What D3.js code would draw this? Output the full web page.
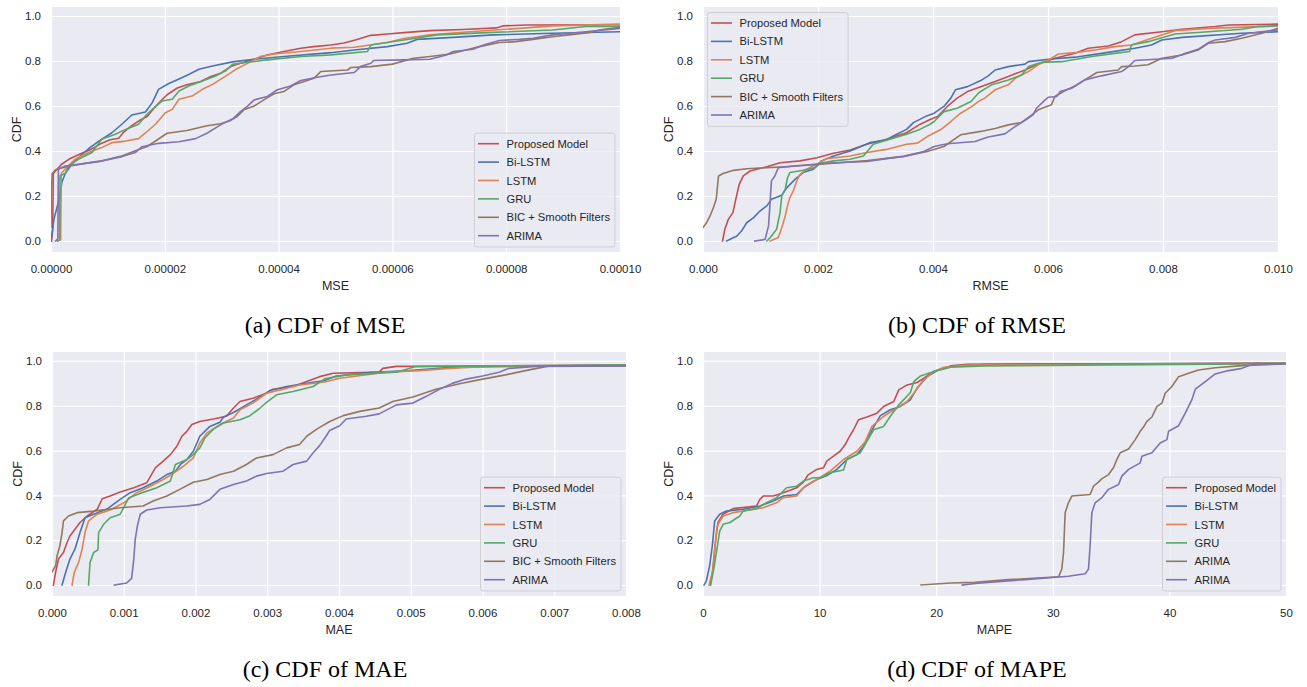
<!DOCTYPE html>
<html>
<head>
<meta charset="utf-8">
<script src="https://cdn.jsdelivr.net/npm/d3@7"></script>
<style>
  body { margin: 0; background: #ffffff; }
  svg text { font-family: "Liberation Sans", Arial, sans-serif; fill: #262626; }
</style>
</head>
<body>
<svg id="chart" width="1307" height="687"></svg>
<script>
// ---------------- DATA ----------------
const seriesNames = ["Proposed Model", "Bi-LSTM", "LSTM", "GRU", "BIC + Smooth Filters", "ARIMA"];
const mapeNames   = ["Proposed Model", "Bi-LSTM", "LSTM", "GRU", "ARIMA", "ARIMA"];
const seriesColors = ["#C44E52", "#4C72B0", "#DD8452", "#55A868", "#937860", "#8172B3"];

const cdfTicks = [0, 0.2, 0.4, 0.6, 0.8, 1.0];
const cdfTickLabels = ["0.0", "0.2", "0.4", "0.6", "0.8", "1.0"];

const mseTicks = [0, 0.00002, 0.00004, 0.00006, 0.00008, 0.0001];
const mseTickLabels = ["0.00000", "0.00002", "0.00004", "0.00006", "0.00008", "0.00010"];
const rmseTicks = [0, 0.002, 0.004, 0.006, 0.008, 0.010];
const rmseTickLabels = ["0.000", "0.002", "0.004", "0.006", "0.008", "0.010"];
const maeTicks = [0, 0.001, 0.002, 0.003, 0.004, 0.005, 0.006, 0.007, 0.008];
const maeTickLabels = ["0.000", "0.001", "0.002", "0.003", "0.004", "0.005", "0.006", "0.007", "0.008"];
const mapeTicks = [0, 10, 20, 30, 40, 50];
const mapeTickLabels = ["0", "10", "20", "30", "40", "50"];

// ---- (a) MSE : [value, CDF]
const mseProposed = [[0.01e-5,0],[0.03e-5,0.05],[0.04e-5,0.30],[0.18e-5,0.34],[0.34e-5,0.367],[0.52e-5,0.388],[0.69e-5,0.405],[0.87e-5,0.432],[1.04e-5,0.45],[1.19e-5,0.457],[1.28e-5,0.484],[1.40e-5,0.509],[1.57e-5,0.538],[1.69e-5,0.553],[1.81e-5,0.59],[1.92e-5,0.62],[2.04e-5,0.65],[2.22e-5,0.68],[2.39e-5,0.694],[2.63e-5,0.709],[2.80e-5,0.73],[2.98e-5,0.746],[3.16e-5,0.775],[3.33e-5,0.79],[3.57e-5,0.808],[3.80e-5,0.827],[4.09e-5,0.842],[4.39e-5,0.857],[4.62e-5,0.864],[4.92e-5,0.871],[5.15e-5,0.88],[5.38e-5,0.896],[5.62e-5,0.914],[5.91e-5,0.92],[6.26e-5,0.927],[6.66e-5,0.935],[7.24e-5,0.94],[7.83e-5,0.947],[7.94e-5,0.956],[8.35e-5,0.96],[10e-5,0.961]];
const mseBiLSTM = [[0,0],[0.05e-5,0.095],[0.11e-5,0.154],[0.16e-5,0.198],[0.19e-5,0.26],[0.25e-5,0.30],[0.36e-5,0.34],[0.48e-5,0.37],[0.66e-5,0.41],[0.84e-5,0.444],[1.07e-5,0.481],[1.25e-5,0.52],[1.42e-5,0.56],[1.66e-5,0.573],[1.78e-5,0.615],[1.89e-5,0.674],[2.07e-5,0.70],[2.25e-5,0.72],[2.42e-5,0.74],[2.60e-5,0.763],[2.84e-5,0.778],[3.19e-5,0.796],[3.57e-5,0.808],[4.09e-5,0.82],[4.92e-5,0.837],[5.33e-5,0.849],[5.91e-5,0.864],[6.26e-5,0.879],[6.43e-5,0.896],[7.07e-5,0.905],[7.77e-5,0.916],[8.81e-5,0.923],[10e-5,0.93]];
const mseLSTM = [[0.12e-5,0],[0.17e-5,0.005],[0.18e-5,0.30],[0.25e-5,0.32],[0.42e-5,0.363],[0.66e-5,0.393],[0.89e-5,0.415],[1.07e-5,0.437],[1.31e-5,0.444],[1.54e-5,0.455],[1.66e-5,0.48],[1.84e-5,0.52],[2.01e-5,0.57],[2.13e-5,0.585],[2.25e-5,0.63],[2.48e-5,0.644],[2.66e-5,0.674],[2.84e-5,0.696],[3.07e-5,0.733],[3.25e-5,0.763],[3.42e-5,0.785],[3.68e-5,0.82],[3.92e-5,0.831],[4.39e-5,0.842],[4.92e-5,0.857],[5.33e-5,0.861],[5.91e-5,0.882],[6.20e-5,0.90],[6.66e-5,0.916],[7.36e-5,0.93],[8.23e-5,0.945],[8.81e-5,0.956],[10e-5,0.964]];
const mseGRU = [[0.11e-5,0],[0.15e-5,0.005],[0.16e-5,0.29],[0.25e-5,0.30],[0.31e-5,0.333],[0.48e-5,0.363],[0.72e-5,0.393],[0.89e-5,0.452],[1.13e-5,0.474],[1.31e-5,0.496],[1.54e-5,0.519],[1.66e-5,0.556],[1.78e-5,0.585],[1.95e-5,0.622],[2.13e-5,0.63],[2.25e-5,0.667],[2.42e-5,0.689],[2.66e-5,0.711],[2.89e-5,0.733],[3.07e-5,0.756],[3.19e-5,0.785],[3.33e-5,0.79],[3.80e-5,0.805],[4.39e-5,0.82],[4.92e-5,0.827],[5.56e-5,0.842],[5.62e-5,0.871],[6.20e-5,0.893],[6.78e-5,0.916],[7.65e-5,0.926],[8.81e-5,0.938],[9.40e-5,0.953],[10e-5,0.953]];
const mseBIC = [[0,0.06],[0.005e-5,0.2],[0.02e-5,0.30],[0.08e-5,0.317],[0.28e-5,0.331],[0.63e-5,0.346],[0.87e-5,0.354],[1.22e-5,0.376],[1.45e-5,0.398],[1.69e-5,0.42],[1.87e-5,0.45],[2.04e-5,0.479],[2.39e-5,0.491],[2.74e-5,0.512],[2.98e-5,0.521],[3.16e-5,0.536],[3.27e-5,0.553],[3.39e-5,0.583],[3.57e-5,0.60],[3.74e-5,0.627],[3.92e-5,0.654],[4.09e-5,0.664],[4.27e-5,0.694],[4.45e-5,0.709],[4.62e-5,0.723],[4.74e-5,0.753],[5.21e-5,0.76],[5.27e-5,0.771],[5.62e-5,0.775],[6.0e-5,0.786],[6.37e-5,0.812],[6.66e-5,0.82],[7.01e-5,0.831],[7.19e-5,0.842],[7.53e-5,0.864],[7.88e-5,0.882],[8.17e-5,0.886],[8.47e-5,0.896],[8.81e-5,0.908],[9.10e-5,0.916],[9.45e-5,0.926],[9.69e-5,0.94],[10e-5,0.95]];
const mseARIMA = [[0.08e-5,0],[0.12e-5,0.01],[0.13e-5,0.32],[0.25e-5,0.333],[0.60e-5,0.345],[0.89e-5,0.356],[1.25e-5,0.375],[1.48e-5,0.393],[1.60e-5,0.419],[1.89e-5,0.434],[2.25e-5,0.441],[2.54e-5,0.455],[2.74e-5,0.479],[2.98e-5,0.516],[3.21e-5,0.546],[3.33e-5,0.575],[3.45e-5,0.598],[3.57e-5,0.627],[3.80e-5,0.642],[3.98e-5,0.672],[4.21e-5,0.689],[4.39e-5,0.713],[4.68e-5,0.728],[4.92e-5,0.738],[5.33e-5,0.749],[5.44e-5,0.775],[5.62e-5,0.79],[5.67e-5,0.802],[6.20e-5,0.805],[6.66e-5,0.808],[6.95e-5,0.827],[7.07e-5,0.842],[7.42e-5,0.852],[7.60e-5,0.871],[7.88e-5,0.891],[8.23e-5,0.896],[8.47e-5,0.901],[8.81e-5,0.916],[9.40e-5,0.93],[10e-5,0.945]];

// ---- (b) RMSE
const rmseProposed = [[0.34e-3,0],[0.38e-3,0.052],[0.44e-3,0.096],[0.52e-3,0.126],[0.57e-3,0.185],[0.63e-3,0.252],[0.70e-3,0.289],[0.82e-3,0.311],[1.11e-3,0.33],[1.34e-3,0.348],[1.69e-3,0.356],[1.98e-3,0.37],[2.27e-3,0.39],[2.56e-3,0.404],[2.85e-3,0.43],[3.19e-3,0.452],[3.54e-3,0.481],[3.77e-3,0.518],[3.95e-3,0.54],[4.08e-3,0.553],[4.25e-3,0.598],[4.42e-3,0.635],[4.60e-3,0.664],[4.83e-3,0.686],[5.08e-3,0.709],[5.31e-3,0.731],[5.60e-3,0.76],[5.83e-3,0.787],[6.12e-3,0.812],[6.47e-3,0.834],[6.70e-3,0.857],[7.05e-3,0.867],[7.28e-3,0.886],[7.51e-3,0.916],[7.98e-3,0.93],[8.33e-3,0.941],[8.91e-3,0.953],[9.14e-3,0.96],[10e-3,0.964]];
const rmseBiLSTM = [[0.41e-3,0],[0.59e-3,0.022],[0.67e-3,0.044],[0.76e-3,0.081],[0.88e-3,0.104],[0.99e-3,0.133],[1.11e-3,0.156],[1.19e-3,0.185],[1.37e-3,0.203],[1.46e-3,0.237],[1.60e-3,0.274],[1.74e-3,0.304],[1.92e-3,0.319],[2.06e-3,0.356],[2.27e-3,0.378],[2.56e-3,0.40],[2.90e-3,0.437],[3.19e-3,0.449],[3.31e-3,0.467],[3.54e-3,0.496],[3.66e-3,0.526],[3.89e-3,0.556],[4.02e-3,0.568],[4.19e-3,0.598],[4.31e-3,0.635],[4.39e-3,0.672],[4.60e-3,0.686],[4.83e-3,0.713],[4.96e-3,0.734],[5.08e-3,0.76],[5.31e-3,0.775],[5.60e-3,0.786],[5.66e-3,0.797],[6.01e-3,0.808],[6.47e-3,0.817],[6.93e-3,0.834],[7.51e-3,0.857],[7.80e-3,0.871],[7.98e-3,0.893],[8.33e-3,0.905],[9.37e-3,0.923],[10e-3,0.93]];
const rmseLSTM = [[1.17e-3,0],[1.31e-3,0.015],[1.37e-3,0.059],[1.43e-3,0.111],[1.47e-3,0.156],[1.51e-3,0.193],[1.57e-3,0.222],[1.63e-3,0.267],[1.69e-3,0.296],[1.80e-3,0.319],[1.98e-3,0.341],[2.15e-3,0.366],[2.56e-3,0.378],[2.85e-3,0.393],[3.19e-3,0.407],[3.54e-3,0.43],[3.73e-3,0.435],[3.90e-3,0.464],[4.13e-3,0.494],[4.31e-3,0.531],[4.48e-3,0.568],[4.66e-3,0.595],[4.80e-3,0.622],[4.90e-3,0.635],[5.08e-3,0.672],[5.31e-3,0.694],[5.43e-3,0.723],[5.66e-3,0.753],[5.83e-3,0.783],[6.06e-3,0.812],[6.18e-3,0.831],[6.47e-3,0.837],[6.82e-3,0.849],[7.16e-3,0.864],[7.45e-3,0.871],[7.74e-3,0.896],[7.98e-3,0.916],[8.21e-3,0.935],[8.79e-3,0.945],[10e-3,0.956]];
const rmseGRU = [[1.11e-3,0],[1.17e-3,0.015],[1.28e-3,0.052],[1.34e-3,0.126],[1.37e-3,0.20],[1.43e-3,0.23],[1.47e-3,0.281],[1.51e-3,0.304],[1.74e-3,0.314],[1.95e-3,0.326],[2.04e-3,0.345],[2.27e-3,0.356],[2.56e-3,0.363],[2.79e-3,0.378],[2.96e-3,0.43],[3.25e-3,0.452],[3.54e-3,0.474],[3.77e-3,0.496],[3.95e-3,0.519],[4.02e-3,0.531],[4.19e-3,0.575],[4.42e-3,0.59],[4.66e-3,0.62],[4.80e-3,0.66],[5.02e-3,0.694],[5.31e-3,0.716],[5.54e-3,0.738],[5.66e-3,0.775],[5.89e-3,0.794],[6.24e-3,0.797],[6.76e-3,0.82],[7.16e-3,0.834],[7.42e-3,0.842],[7.45e-3,0.871],[7.74e-3,0.886],[8.21e-3,0.92],[8.79e-3,0.93],[9.37e-3,0.941],[9.66e-3,0.953],[10e-3,0.956]];
const rmseBIC = [[0,0.06],[0.06e-3,0.08],[0.12e-3,0.11],[0.18e-3,0.148],[0.23e-3,0.185],[0.27e-3,0.289],[0.35e-3,0.30],[0.53e-3,0.314],[0.76e-3,0.321],[1.11e-3,0.326],[1.46e-3,0.33],[1.98e-3,0.34],[2.86e-3,0.357],[3.49e-3,0.376],[3.90e-3,0.398],[4.19e-3,0.42],[4.48e-3,0.472],[4.83e-3,0.487],[5.08e-3,0.50],[5.31e-3,0.516],[5.54e-3,0.527],[5.72e-3,0.56],[5.83e-3,0.583],[6.06e-3,0.605],[6.12e-3,0.642],[6.30e-3,0.669],[6.47e-3,0.689],[6.64e-3,0.716],[6.85e-3,0.749],[7.22e-3,0.76],[7.28e-3,0.775],[7.51e-3,0.778],[7.74e-3,0.783],[7.98e-3,0.812],[8.33e-3,0.827],[8.61e-3,0.849],[8.79e-3,0.879],[9.08e-3,0.886],[9.37e-3,0.901],[9.72e-3,0.923],[10e-3,0.945]];
const rmseARIMA = [[0.90e-3,0],[1.08e-3,0.007],[1.14e-3,0.067],[1.17e-3,0.185],[1.19e-3,0.267],[1.25e-3,0.289],[1.31e-3,0.326],[1.57e-3,0.333],[2.27e-3,0.348],[2.85e-3,0.353],[3.19e-3,0.366],[3.49e-3,0.376],[3.84e-3,0.398],[4.02e-3,0.42],[4.25e-3,0.432],[4.73e-3,0.442],[4.96e-3,0.462],[5.25e-3,0.476],[5.43e-3,0.509],[5.60e-3,0.536],[5.74e-3,0.561],[5.80e-3,0.59],[5.95e-3,0.627],[6.01e-3,0.639],[6.15e-3,0.642],[6.21e-3,0.664],[6.41e-3,0.679],[6.64e-3,0.716],[6.93e-3,0.734],[7.28e-3,0.753],[7.40e-3,0.775],[7.51e-3,0.802],[8.16e-3,0.812],[8.39e-3,0.834],[8.61e-3,0.852],[8.79e-3,0.882],[8.91e-3,0.893],[9.26e-3,0.905],[9.49e-3,0.923],[10e-3,0.938]];

// ---- (c) MAE
const maeProposed = [[0.02e-3,0],[0.05e-3,0.056],[0.09e-3,0.116],[0.16e-3,0.145],[0.21e-3,0.19],[0.25e-3,0.219],[0.32e-3,0.249],[0.39e-3,0.279],[0.49e-3,0.308],[0.63e-3,0.338],[0.70e-3,0.385],[0.81e-3,0.397],[0.95e-3,0.415],[1.14e-3,0.434],[1.32e-3,0.456],[1.44e-3,0.523],[1.55e-3,0.553],[1.65e-3,0.582],[1.74e-3,0.619],[1.81e-3,0.664],[1.88e-3,0.686],[1.95e-3,0.716],[2.06e-3,0.73],[2.25e-3,0.741],[2.43e-3,0.753],[2.53e-3,0.79],[2.62e-3,0.819],[2.80e-3,0.834],[2.99e-3,0.856],[3.08e-3,0.874],[3.36e-3,0.886],[3.55e-3,0.908],[3.73e-3,0.93],[3.92e-3,0.945],[4.56e-3,0.95],[4.61e-3,0.967],[4.80e-3,0.976],[5.12e-3,0.976],[8e-3,0.982]];
const maeBiLSTM = [[0.14e-3,0],[0.19e-3,0.056],[0.25e-3,0.116],[0.32e-3,0.16],[0.39e-3,0.234],[0.46e-3,0.30],[0.58e-3,0.316],[0.76e-3,0.338],[0.95e-3,0.382],[1.09e-3,0.412],[1.27e-3,0.434],[1.46e-3,0.464],[1.60e-3,0.493],[1.72e-3,0.508],[1.79e-3,0.538],[1.88e-3,0.56],[1.97e-3,0.597],[2.06e-3,0.664],[2.20e-3,0.708],[2.34e-3,0.726],[2.39e-3,0.75],[2.53e-3,0.77],[2.71e-3,0.804],[2.90e-3,0.839],[3.04e-3,0.868],[3.27e-3,0.886],[3.55e-3,0.90],[3.80e-3,0.913],[3.96e-3,0.933],[4.43e-3,0.948],[4.98e-3,0.957],[5.58e-3,0.972],[8e-3,0.982]];
const maeLSTM = [[0.28e-3,0],[0.31e-3,0.056],[0.37e-3,0.10],[0.42e-3,0.16],[0.46e-3,0.234],[0.51e-3,0.286],[0.63e-3,0.316],[0.81e-3,0.335],[1.00e-3,0.367],[1.18e-3,0.412],[1.37e-3,0.441],[1.55e-3,0.471],[1.69e-3,0.498],[1.83e-3,0.53],[1.97e-3,0.567],[2.06e-3,0.634],[2.16e-3,0.679],[2.34e-3,0.716],[2.53e-3,0.745],[2.62e-3,0.782],[2.80e-3,0.812],[2.99e-3,0.856],[3.18e-3,0.871],[3.45e-3,0.893],[3.80e-3,0.906],[4.01e-3,0.923],[4.66e-3,0.95],[5.12e-3,0.957],[5.54e-3,0.967],[6.05e-3,0.975],[8e-3,0.982]];
const maeGRU = [[0.51e-3,0],[0.53e-3,0.10],[0.58e-3,0.145],[0.64e-3,0.157],[0.65e-3,0.234],[0.72e-3,0.271],[0.81e-3,0.30],[0.95e-3,0.316],[1.00e-3,0.345],[1.07e-3,0.39],[1.23e-3,0.409],[1.46e-3,0.434],[1.65e-3,0.464],[1.72e-3,0.538],[1.88e-3,0.56],[1.97e-3,0.582],[2.06e-3,0.612],[2.13e-3,0.656],[2.25e-3,0.696],[2.39e-3,0.723],[2.62e-3,0.738],[2.76e-3,0.756],[2.90e-3,0.79],[2.99e-3,0.815],[3.13e-3,0.849],[3.36e-3,0.864],[3.64e-3,0.886],[3.80e-3,0.92],[4.10e-3,0.938],[4.80e-3,0.95],[5.07e-3,0.975],[8e-3,0.982]];
const maeBIC = [[0,0.059],[0.05e-3,0.086],[0.07e-3,0.13],[0.11e-3,0.175],[0.14e-3,0.234],[0.16e-3,0.286],[0.23e-3,0.308],[0.35e-3,0.323],[0.58e-3,0.33],[0.95e-3,0.345],[1.27e-3,0.353],[1.41e-3,0.375],[1.60e-3,0.397],[1.78e-3,0.427],[1.97e-3,0.459],[2.16e-3,0.471],[2.34e-3,0.493],[2.53e-3,0.508],[2.71e-3,0.538],[2.85e-3,0.567],[3.08e-3,0.582],[3.27e-3,0.612],[3.45e-3,0.627],[3.55e-3,0.664],[3.69e-3,0.696],[3.87e-3,0.73],[4.06e-3,0.756],[4.29e-3,0.775],[4.56e-3,0.79],[4.75e-3,0.819],[5.03e-3,0.839],[5.35e-3,0.874],[5.68e-3,0.898],[6.0e-3,0.919],[6.32e-3,0.938],[6.60e-3,0.957],[6.93e-3,0.978],[8e-3,0.978]];
const maeARIMA = [[0.87e-3,0],[1.04e-3,0.009],[1.11e-3,0.03],[1.14e-3,0.116],[1.16e-3,0.204],[1.19e-3,0.264],[1.23e-3,0.316],[1.32e-3,0.335],[1.51e-3,0.345],[1.88e-3,0.353],[2.06e-3,0.36],[2.20e-3,0.382],[2.34e-3,0.427],[2.53e-3,0.449],[2.71e-3,0.464],[2.85e-3,0.486],[2.99e-3,0.498],[3.22e-3,0.508],[3.36e-3,0.538],[3.55e-3,0.553],[3.64e-3,0.59],[3.73e-3,0.622],[3.82e-3,0.664],[3.87e-3,0.69],[4.01e-3,0.711],[4.10e-3,0.741],[4.38e-3,0.753],[4.56e-3,0.764],[4.80e-3,0.804],[5.03e-3,0.812],[5.21e-3,0.841],[5.40e-3,0.874],[5.58e-3,0.90],[5.77e-3,0.919],[6.0e-3,0.933],[6.23e-3,0.95],[6.37e-3,0.967],[6.75e-3,0.975],[8e-3,0.978]];

// ---- (d) MAPE
const mapeProposed = [[0.6,0],[0.86,0.071],[1.09,0.204],[1.29,0.279],[1.72,0.316],[2.58,0.341],[4.59,0.353],[4.88,0.382],[5.16,0.397],[6.03,0.397],[6.89,0.412],[8.03,0.434],[8.61,0.459],[9.04,0.493],[9.76,0.516],[10.33,0.523],[10.62,0.553],[11.19,0.575],[11.76,0.597],[12.2,0.627],[12.48,0.656],[12.91,0.693],[13.34,0.738],[14.06,0.75],[14.92,0.767],[15.49,0.797],[16.36,0.819],[16.79,0.871],[17.5,0.893],[18.36,0.904],[18.94,0.923],[19.8,0.953],[20.66,0.967],[21.23,0.978],[22.67,0.985],[50,0.99]];
const mapeBiLSTM = [[0.09,0],[0.29,0.019],[0.57,0.086],[0.80,0.175],[1.0,0.286],[1.43,0.316],[2.0,0.33],[3.44,0.338],[4.88,0.353],[6.03,0.375],[6.89,0.397],[8.03,0.404],[8.61,0.434],[9.18,0.453],[9.76,0.471],[10.62,0.489],[11.48,0.516],[12.34,0.56],[13.2,0.582],[13.77,0.619],[14.35,0.679],[15.21,0.756],[16.07,0.782],[16.93,0.797],[17.79,0.827],[18.36,0.879],[19.23,0.93],[20.09,0.957],[21.23,0.975],[24.1,0.984],[50,0.99]];
const mapeLSTM = [[0.52,0],[0.80,0.056],[1.0,0.16],[1.21,0.264],[1.72,0.308],[2.58,0.323],[4.02,0.335],[5.16,0.345],[6.31,0.367],[6.89,0.39],[8.03,0.397],[8.75,0.441],[9.76,0.471],[10.9,0.508],[12.05,0.56],[13.2,0.597],[13.92,0.641],[14.49,0.708],[15.49,0.753],[16.64,0.79],[17.5,0.819],[18.08,0.856],[18.94,0.916],[19.8,0.953],[20.66,0.972],[22.67,0.982],[50,0.99]];
const mapeGRU = [[0.66,0],[0.92,0.071],[1.15,0.145],[1.43,0.241],[1.72,0.271],[2.30,0.279],[3.16,0.308],[3.44,0.33],[4.59,0.341],[5.45,0.367],[6.31,0.39],[7.17,0.434],[8.03,0.441],[8.61,0.464],[9.47,0.479],[10.04,0.479],[10.9,0.501],[12.05,0.513],[12.34,0.56],[13.49,0.59],[14.06,0.641],[14.63,0.693],[15.49,0.708],[16.07,0.753],[16.79,0.804],[17.79,0.859],[18.08,0.908],[18.65,0.933],[19.8,0.953],[21.23,0.972],[24.1,0.978],[46.2,0.987],[50,0.99]];
const mapeARIMA1 = [[18.7,0],[21.23,0.009],[23.33,0.012],[26.2,0.024],[30.5,0.037],[30.77,0.071],[30.92,0.145],[31.06,0.323],[31.34,0.367],[31.63,0.397],[33.2,0.404],[33.49,0.441],[33.92,0.459],[34.2,0.474],[34.78,0.493],[35.2,0.523],[35.49,0.56],[35.78,0.59],[36.5,0.607],[37.07,0.649],[37.5,0.686],[37.78,0.705],[38.07,0.73],[38.5,0.75],[38.93,0.797],[39.36,0.812],[39.64,0.856],[40.21,0.886],[40.79,0.93],[41.65,0.945],[42.5,0.96],[43.93,0.97],[46.22,0.979],[50,0.987]];
const mapeARIMA2 = [[22.24,0],[23.33,0.007],[27.6,0.024],[31.34,0.039],[32.78,0.05],[33.06,0.071],[33.2,0.175],[33.35,0.323],[33.63,0.367],[34.2,0.39],[34.78,0.427],[35.64,0.449],[35.92,0.486],[36.5,0.516],[37.5,0.545],[37.64,0.575],[38.5,0.59],[39.21,0.634],[39.79,0.649],[39.93,0.686],[40.79,0.711],[41.36,0.767],[41.93,0.827],[42.22,0.874],[43.08,0.908],[43.93,0.942],[45.08,0.957],[46.22,0.967],[47.22,0.987],[50,0.987]];

// ---------------- LAYOUT ----------------
const panels = [
  { x0: 51, x1: 620, y0: 7, y1: 252, domain: [0, 0.0001], ticks: mseTicks, tickLabels: mseTickLabels,
    xLabel: "MSE", names: seriesNames, series: [mseProposed, mseBiLSTM, mseLSTM, mseGRU, mseBIC, mseARIMA],
    legend: "lr", caption: "(a) CDF of MSE", capX: 325, capY: 333 },
  { x0: 703, x1: 1278, y0: 7, y1: 252, domain: [0, 0.010], ticks: rmseTicks, tickLabels: rmseTickLabels,
    xLabel: "RMSE", names: seriesNames, series: [rmseProposed, rmseBiLSTM, rmseLSTM, rmseGRU, rmseBIC, rmseARIMA],
    legend: "ul", caption: "(b) CDF of RMSE", capX: 977, capY: 333 },
  { x0: 52, x1: 626, y0: 352, y1: 596, domain: [0, 0.008], ticks: maeTicks, tickLabels: maeTickLabels,
    xLabel: "MAE", names: seriesNames, series: [maeProposed, maeBiLSTM, maeLSTM, maeGRU, maeBIC, maeARIMA],
    legend: "lr", caption: "(c) CDF of MAE", capX: 325, capY: 677 },
  { x0: 703, x1: 1286, y0: 352, y1: 596, domain: [0, 50], ticks: mapeTicks, tickLabels: mapeTickLabels,
    xLabel: "MAPE", names: mapeNames, series: [mapeProposed, mapeBiLSTM, mapeLSTM, mapeGRU, mapeARIMA1, mapeARIMA2],
    legend: "lr", caption: "(d) CDF of MAPE", capX: 977, capY: 677 }
];

const svg = d3.select("#chart");
const yDomain = [-0.049, 1.04];

panels.forEach((p, pi) => {
  const g = svg.append("g");
  const x = d3.scaleLinear().domain(p.domain).range([p.x0, p.x1]);
  const y = d3.scaleLinear().domain(yDomain).range([p.y1, p.y0]);
  const w = p.x1 - p.x0, h = p.y1 - p.y0;

  g.append("rect").attr("x", p.x0).attr("y", p.y0).attr("width", w).attr("height", h).attr("fill", "#EAEAF2");

  const xAxis = d3.axisBottom(x).tickValues(p.ticks).tickFormat((d, i) => p.tickLabels[i])
    .tickSize(-h).tickPadding(13);
  const gx = g.append("g").attr("transform", `translate(0,${p.y1})`).call(xAxis);
  const yAxis = d3.axisLeft(y).tickValues(cdfTicks).tickFormat((d, i) => cdfTickLabels[i])
    .tickSize(-w).tickPadding(10);
  const gy = g.append("g").attr("transform", `translate(${p.x0},0)`).call(yAxis);
  [gx, gy].forEach(ax => {
    ax.select(".domain").remove();
    ax.selectAll(".tick line").attr("stroke", "#ffffff").attr("stroke-width", 1.2);
    ax.selectAll(".tick text").attr("font-size", 11.5).attr("fill", "#262626")
      .style("font-family", '"Liberation Sans", Arial, sans-serif');
  });

  const clipId = "clip" + pi;
  g.append("clipPath").attr("id", clipId).append("rect")
    .attr("x", p.x0).attr("y", p.y0).attr("width", w).attr("height", h);

  const line = d3.line().x(d => x(d[0])).y(d => y(d[1]));
  const lines = g.append("g").attr("clip-path", `url(#${clipId})`);
  p.series.forEach((s, si) => {
    lines.append("path").datum(s).attr("d", line)
      .attr("fill", "none").attr("stroke", seriesColors[si]).attr("stroke-width", 1.6)
      .attr("stroke-linejoin", "round").attr("stroke-linecap", "square");
  });

  // axis labels
  g.append("text").attr("x", (p.x0 + p.x1) / 2).attr("y", p.y1 + 38)
    .attr("text-anchor", "middle").attr("font-size", 12.5).text(p.xLabel);
  g.append("text").attr("transform", `translate(${p.x0 - 30.5},${(p.y0 + p.y1) / 2}) rotate(-90)`)
    .attr("text-anchor", "middle").attr("font-size", 12.5).text("CDF");

  // legend
  const lg = g.append("g");
  const rowH = 18.4, fs = 11.2;
  const texts = p.names.map((n, i) => lg.append("text").attr("font-size", fs).text(n));
  const maxW = d3.max(texts, t => t.node().getComputedTextLength());
  const bw = 32 + maxW + 5, bh = 10.5 + 5 * rowH + 11.3;
  let bx, by;
  if (p.legend === "ul") { bx = p.x0 + 4.5; by = p.y0 + 5.5; }
  else { bx = p.x1 - 5 - bw; by = p.y1 - 5 - bh; }
  lg.insert("rect", "text").attr("x", bx).attr("y", by).attr("width", bw).attr("height", bh)
    .attr("rx", 2.5).attr("fill", "#EAEAF2").attr("fill-opacity", 0.8)
    .attr("stroke", "#cfcfd4").attr("stroke-width", 1);
  p.names.forEach((n, i) => {
    const ry = by + 10.5 + i * rowH;
    lg.append("line").attr("x1", bx + 3.5).attr("x2", bx + 24.5).attr("y1", ry).attr("y2", ry)
      .attr("stroke", seriesColors[i]).attr("stroke-width", 1.6);
    texts[i].attr("x", bx + 32).attr("y", ry).attr("dy", "0.36em");
  });

  // caption
  svg.append("text").attr("x", p.capX).attr("y", p.capY).attr("text-anchor", "middle")
    .style("font-family", '"Liberation Serif", "Times New Roman", serif')
    .style("fill", "#000000").attr("font-size", 24).text(p.caption);
});
</script>
</body>
</html>
